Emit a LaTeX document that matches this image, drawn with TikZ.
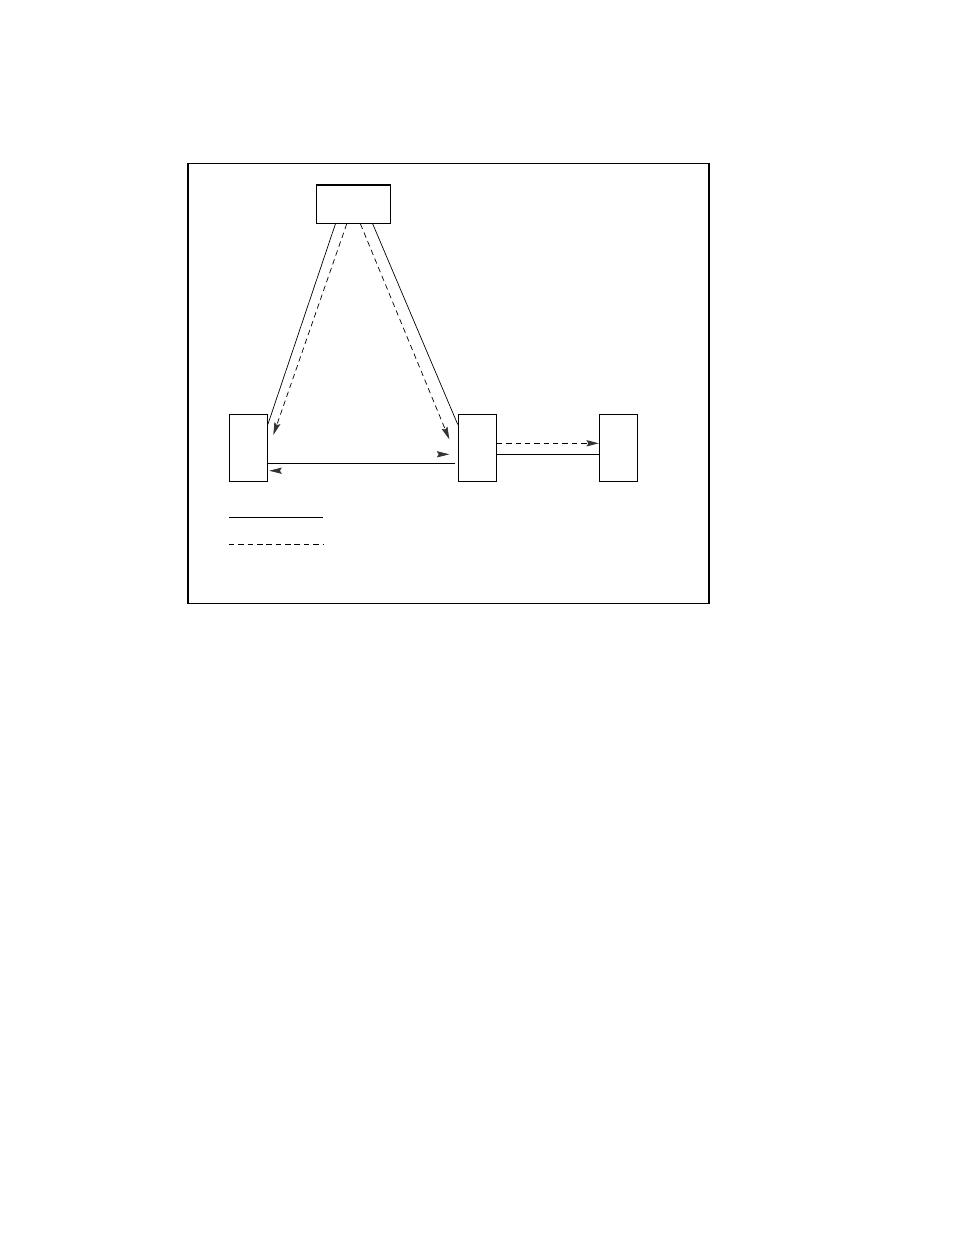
\documentclass[tikz,border=0pt]{standalone}
\usetikzlibrary{arrows.meta,calc}

\begin{document}
\begin{tikzpicture}[x=0.6415pt, y=-0.6415pt, line width=0.7pt,
    box/.style={draw, rectangle, inner sep=0pt},
    widebox/.style={box, minimum width=47.5pt, minimum height=24.6pt},
    tallbox/.style={box, minimum width=24.4pt, minimum height=43pt},
    link/.style={line width=0.45pt},
    dashlink/.style={link, dash pattern=on 3.5pt off 2.5pt},
    tip/.style={-{Stealth[length=8pt, width=4pt, inset=1.2pt, color=black!80]}}]
    % page and outer frame
    \useasboundingbox (0,0) rectangle (954,1235);
    \draw[line width=0.65pt] (188,163) rectangle (709,603);

    % boxes
    \node[widebox] (hub)  at (353.3, 204.2) {};
    \node[tallbox] (lbox) at (248.3, 447.8) {};
    \node[tallbox] (mbox) at (477.3, 447.8) {};
    \node[tallbox] (rbox) at (618.5, 447.8) {};

    % free ends of the arrows
    \coordinate (lhead) at (273.3, 435);
    \coordinate (mhead) at (449.3, 439.3);
    \coordinate (ltip)  at (269.3, 470.7);
    \coordinate (mtip)  at (449.3, 454.3);

    % links from the top box
    \draw[link] ($(hub.south west)+(19.7,0)$) -- ($(lbox.north east)+(0,10.7)$);
    \draw[dashlink, tip] ($(hub.south west)+(31,0)$) -- (lhead);
    \draw[dashlink, tip] ($(hub.south west)+(44.7,0)$) -- (mhead);
    \draw[link] ($(hub.south west)+(57,0)$) -- ($(mbox.north west)+(0,10.7)$);

    % link between the lower boxes
    \draw[link, line width=0.6pt] ($(mbox.west)+(-2.6,15.5)$) -- ($(lbox.east)+(0,15.5)$);
    \draw[link, tip] ($(ltip)+(2,0)$) -- (ltip);
    \draw[link, tip] ($(mtip)+(-2,0)$) -- (mtip);

    \draw[dashlink, line width=0.6pt, tip] ($(mbox.east)+(0,-4.5)$) -- ($(rbox.west)+(0,-4.5)$);
    \draw[link, line width=0.6pt] ($(mbox.east)+(0,6.5)$) -- ($(rbox.west)+(0,6.5)$);

    % key
    \coordinate (key1) at (229, 517.3);
    \coordinate (key2) at (229, 544.3);
    \draw[link, line width=0.6pt] (key1) -- ++(94.3,0);
    \draw[dashlink, line width=0.6pt] (key2) -- ++(94.3,0);
\end{tikzpicture}
\end{document}
